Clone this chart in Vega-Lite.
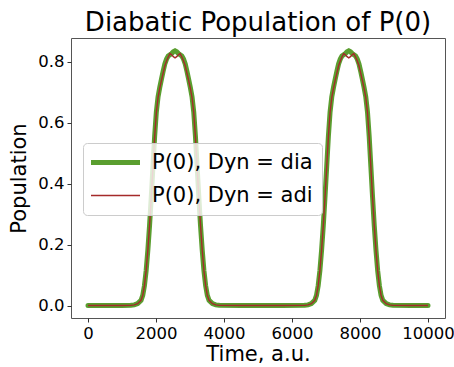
{
  "$schema": "https://vega.github.io/schema/vega-lite/v6.json",
  "width": 374,
  "height": 280,
  "padding": {"left": 8, "top": 10, "right": 0, "bottom": 0},
  "background": "white",
  "config": {
    "font": "DejaVu Sans",
    "view": {"stroke": "#555", "strokeWidth": 1},
    "axis": {
      "domain": false, "grid": false, "tickSize": 4, "tickColor": "#333",
      "labelFontSize": 16.5, "labelColor": "#000", "labelPadding": 3,
      "titleFontSize": 21, "titleFontWeight": "normal", "titleColor": "#000",
      "labelFlush": false
    },
    "title": {"fontSize": 26, "fontWeight": "normal", "color": "#000", "offset": 2}
  },
  "title": "Diabatic Population of P(0)",
  "data": {"values": [
    {"t": 0, "dia": 0.001, "adi": 0.001},
    {"t": 500, "dia": 0.001, "adi": 0.001},
    {"t": 1000, "dia": 0.001, "adi": 0.001},
    {"t": 1260, "dia": 0.0015, "adi": 0.0015},
    {"t": 1360, "dia": 0.003, "adi": 0.003},
    {"t": 1460, "dia": 0.007, "adi": 0.007},
    {"t": 1560, "dia": 0.018, "adi": 0.018},
    {"t": 1610, "dia": 0.034, "adi": 0.034},
    {"t": 1660, "dia": 0.066, "adi": 0.066},
    {"t": 1710, "dia": 0.115, "adi": 0.115},
    {"t": 1760, "dia": 0.182, "adi": 0.182},
    {"t": 1810, "dia": 0.262, "adi": 0.262},
    {"t": 1860, "dia": 0.355, "adi": 0.354},
    {"t": 1910, "dia": 0.455, "adi": 0.453},
    {"t": 1960, "dia": 0.555, "adi": 0.553},
    {"t": 2010, "dia": 0.635, "adi": 0.633},
    {"t": 2060, "dia": 0.684, "adi": 0.682},
    {"t": 2110, "dia": 0.715, "adi": 0.712},
    {"t": 2160, "dia": 0.742, "adi": 0.738},
    {"t": 2210, "dia": 0.768, "adi": 0.762},
    {"t": 2260, "dia": 0.792, "adi": 0.786},
    {"t": 2310, "dia": 0.808, "adi": 0.802},
    {"t": 2360, "dia": 0.818, "adi": 0.815},
    {"t": 2410, "dia": 0.822, "adi": 0.826},
    {"t": 2460, "dia": 0.826, "adi": 0.822},
    {"t": 2510, "dia": 0.832, "adi": 0.816},
    {"t": 2560, "dia": 0.835, "adi": 0.812},
    {"t": 2610, "dia": 0.832, "adi": 0.816},
    {"t": 2660, "dia": 0.826, "adi": 0.822},
    {"t": 2710, "dia": 0.822, "adi": 0.826},
    {"t": 2760, "dia": 0.818, "adi": 0.815},
    {"t": 2810, "dia": 0.808, "adi": 0.802},
    {"t": 2860, "dia": 0.792, "adi": 0.786},
    {"t": 2910, "dia": 0.768, "adi": 0.762},
    {"t": 2960, "dia": 0.742, "adi": 0.738},
    {"t": 3010, "dia": 0.715, "adi": 0.712},
    {"t": 3060, "dia": 0.684, "adi": 0.682},
    {"t": 3110, "dia": 0.635, "adi": 0.633},
    {"t": 3160, "dia": 0.555, "adi": 0.553},
    {"t": 3210, "dia": 0.455, "adi": 0.453},
    {"t": 3260, "dia": 0.355, "adi": 0.354},
    {"t": 3310, "dia": 0.262, "adi": 0.262},
    {"t": 3360, "dia": 0.182, "adi": 0.182},
    {"t": 3410, "dia": 0.115, "adi": 0.115},
    {"t": 3460, "dia": 0.066, "adi": 0.066},
    {"t": 3510, "dia": 0.034, "adi": 0.034},
    {"t": 3560, "dia": 0.018, "adi": 0.018},
    {"t": 3660, "dia": 0.007, "adi": 0.007},
    {"t": 3760, "dia": 0.003, "adi": 0.003},
    {"t": 3860, "dia": 0.0015, "adi": 0.0015},
    {"t": 4500, "dia": 0.001, "adi": 0.001},
    {"t": 5100, "dia": 0.001, "adi": 0.001},
    {"t": 5700, "dia": 0.001, "adi": 0.001},
    {"t": 6370, "dia": 0.0015, "adi": 0.0015},
    {"t": 6470, "dia": 0.003, "adi": 0.003},
    {"t": 6570, "dia": 0.007, "adi": 0.007},
    {"t": 6670, "dia": 0.018, "adi": 0.018},
    {"t": 6720, "dia": 0.034, "adi": 0.034},
    {"t": 6770, "dia": 0.066, "adi": 0.066},
    {"t": 6820, "dia": 0.115, "adi": 0.115},
    {"t": 6870, "dia": 0.182, "adi": 0.182},
    {"t": 6920, "dia": 0.262, "adi": 0.262},
    {"t": 6970, "dia": 0.355, "adi": 0.354},
    {"t": 7020, "dia": 0.455, "adi": 0.453},
    {"t": 7070, "dia": 0.555, "adi": 0.553},
    {"t": 7120, "dia": 0.635, "adi": 0.633},
    {"t": 7170, "dia": 0.684, "adi": 0.682},
    {"t": 7220, "dia": 0.715, "adi": 0.712},
    {"t": 7270, "dia": 0.742, "adi": 0.738},
    {"t": 7320, "dia": 0.768, "adi": 0.762},
    {"t": 7370, "dia": 0.792, "adi": 0.786},
    {"t": 7420, "dia": 0.808, "adi": 0.802},
    {"t": 7470, "dia": 0.818, "adi": 0.815},
    {"t": 7520, "dia": 0.822, "adi": 0.826},
    {"t": 7570, "dia": 0.826, "adi": 0.822},
    {"t": 7620, "dia": 0.832, "adi": 0.816},
    {"t": 7670, "dia": 0.835, "adi": 0.812},
    {"t": 7720, "dia": 0.832, "adi": 0.816},
    {"t": 7770, "dia": 0.826, "adi": 0.822},
    {"t": 7820, "dia": 0.822, "adi": 0.826},
    {"t": 7870, "dia": 0.818, "adi": 0.815},
    {"t": 7920, "dia": 0.808, "adi": 0.802},
    {"t": 7970, "dia": 0.792, "adi": 0.786},
    {"t": 8020, "dia": 0.768, "adi": 0.762},
    {"t": 8070, "dia": 0.742, "adi": 0.738},
    {"t": 8120, "dia": 0.715, "adi": 0.712},
    {"t": 8170, "dia": 0.684, "adi": 0.682},
    {"t": 8220, "dia": 0.635, "adi": 0.633},
    {"t": 8270, "dia": 0.555, "adi": 0.553},
    {"t": 8320, "dia": 0.455, "adi": 0.453},
    {"t": 8370, "dia": 0.355, "adi": 0.354},
    {"t": 8420, "dia": 0.262, "adi": 0.262},
    {"t": 8470, "dia": 0.182, "adi": 0.182},
    {"t": 8520, "dia": 0.115, "adi": 0.115},
    {"t": 8570, "dia": 0.066, "adi": 0.066},
    {"t": 8620, "dia": 0.034, "adi": 0.034},
    {"t": 8670, "dia": 0.018, "adi": 0.018},
    {"t": 8770, "dia": 0.007, "adi": 0.007},
    {"t": 8870, "dia": 0.003, "adi": 0.003},
    {"t": 8970, "dia": 0.0015, "adi": 0.0015},
    {"t": 9500, "dia": 0.001, "adi": 0.001},
    {"t": 10000, "dia": 0.001, "adi": 0.001}
  ]},
  "transform": [{"fold": ["dia", "adi"], "as": ["dyn", "p"]}],
  "encoding": {
    "x": {"field": "t", "type": "quantitative",
      "scale": {"domain": [-500, 10500], "nice": false, "zero": false},
      "axis": {"title": "Time, a.u.", "values": [0, 2000, 4000, 6000, 8000, 10000], "format": "d", "titlePadding": 2}},
    "y": {"field": "p", "type": "quantitative",
      "scale": {"domain": [-0.04, 0.877], "nice": false, "zero": false},
      "axis": {"title": "Population", "values": [0, 0.2, 0.4, 0.6, 0.8], "format": ".1f", "titlePadding": 8}},
    "color": {"field": "dyn", "type": "nominal",
      "scale": {"domain": ["dia", "adi"], "range": ["#5a9e2f", "#a52a2a"]},
      "legend": {
        "title": null, "orient": "none", "legendX": 12, "legendY": 105,
        "labelExpr": "'P(0), Dyn = ' + datum.label",
        "labelFontSize": 21, "labelColor": "#000", "labelLimit": 400,
        "symbolType": "M-4.9,0L4.9,0", "symbolSize": 100, "symbolOffset": 13,
        "labelOffset": 26, "rowPadding": 11, "padding": 9,
        "fillColor": "rgba(255,255,255,0.8)", "strokeColor": "#cccccc", "cornerRadius": 4
      }},
    "strokeWidth": {"field": "dyn", "type": "nominal",
      "scale": {"domain": ["dia", "adi"], "range": [5, 1.4]}}
  },
  "layer": [
    {"transform": [{"filter": "datum.dyn == 'dia'"}], "mark": {"type": "line", "strokeCap": "round"}},
    {"transform": [{"filter": "datum.dyn == 'adi'"}], "mark": {"type": "line"}}
  ]
}
